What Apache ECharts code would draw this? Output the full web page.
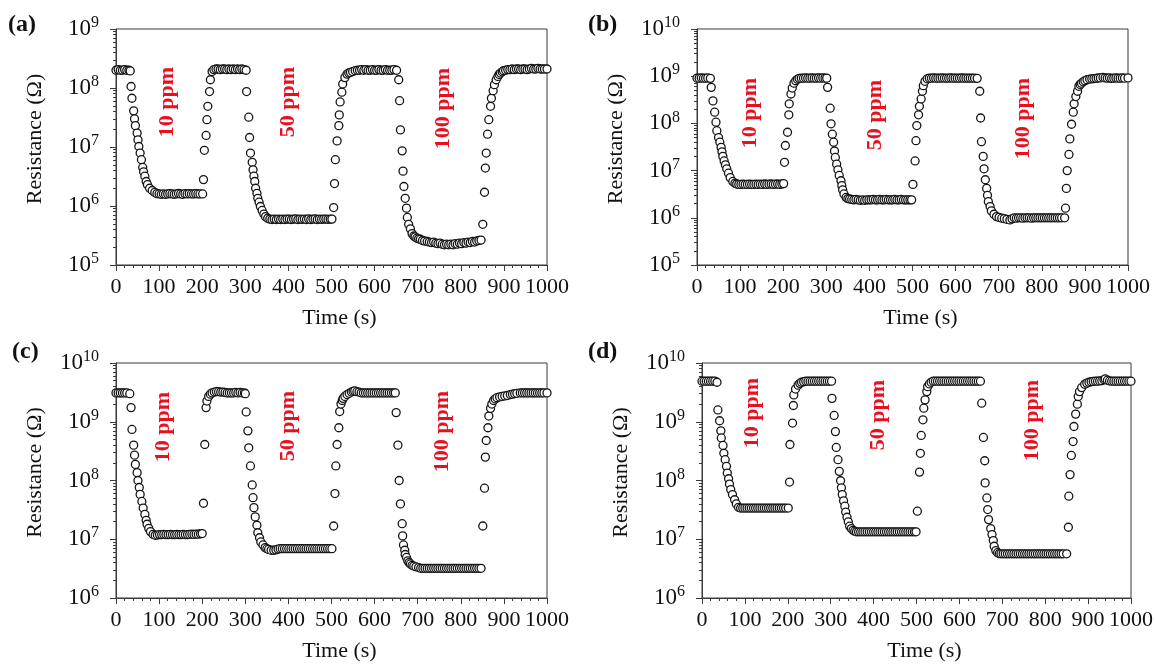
<!DOCTYPE html>
<html>
<head>
<meta charset="utf-8">
<script src="https://cdn.jsdelivr.net/npm/echarts@6/dist/echarts.min.js"></script>
<style>html,body{margin:0;padding:0;background:#fff}#c{width:1156px;height:666px}</style>
</head>
<body>
<div id="c"></div>
<script>
// Time (s) vs Resistance (Ohm)
const panelA = [[0,2.0e8],[5,2.05e8],[10,2.0e8],[15,2.0e8],[20,2.05e8],[25,2.0e8],[30,2.0e8],[33,1.95e8],
[35,1.06e8],[37,6.7e7],[41,4.1e7],[43,3.0e7],[45,2.3e7],[49,1.72e7],[51,1.32e7],[53,1.02e7],[56,7.9e6],[59,6.1e6],[62,4.5e6],[64,3.8e6],[67,3.2e6],[70,2.6e6],[73,2.3e6],[78,2.0e6],[84,1.83e6],[90,1.7e6],[95,1.62e6],[100,1.6e6],[105,1.58e6],[110,1.6e6],[115,1.58e6],[120,1.6e6],[125,1.62e6],[130,1.6e6],[135,1.58e6],[140,1.6e6],[145,1.63e6],[150,1.6e6],[155,1.58e6],[160,1.62e6],[165,1.6e6],[170,1.62e6],[175,1.6e6],[180,1.6e6],[185,1.62e6],[190,1.6e6],[195,1.6e6],[201,1.6e6],
[203,2.8e6],[205,8.8e6],[209,1.57e7],[211,2.9e7],[213,4.9e7],[217,8.7e7],[219,1.38e8],[223,1.9e8],[227,2.05e8],[232,2.1e8],[237,2.1e8],[242,2.05e8],[247,2.1e8],[252,2.1e8],[257,2.05e8],[262,2.1e8],[267,2.05e8],[272,2.1e8],[277,2.05e8],[282,2.1e8],[287,2.05e8],[292,2.1e8],[297,2.05e8],[302,2.0e8],
[303,8.7e7],[308,3.2e7],[310,1.45e7],[312,7.9e6],[316,5.5e6],[318,4.1e6],[320,3.2e6],[322,2.6e6],[324,2.0e6],[327,1.64e6],[329,1.35e6],[332,1.16e6],[335,9.8e5],[339,8.4e5],[343,7.3e5],[347,6.6e5],[352,6.2e5],[357,6.0e5],[362,5.9e5],[367,6.0e5],[372,5.9e5],[377,6.0e5],[382,5.9e5],[387,6.0e5],[392,5.9e5],[397,6.0e5],[402,6.0e5],[407,5.9e5],[412,6.0e5],[417,6.05e5],[422,5.9e5],[427,6.0e5],[432,5.95e5],[437,6.0e5],[442,5.9e5],[447,6.05e5],[452,5.9e5],[457,6.0e5],[462,6.05e5],[467,5.9e5],[472,6.0e5],[477,5.95e5],[482,6.0e5],[487,6.0e5],[492,5.95e5],[497,6.0e5],[501,6.0e5],
[505,9.4e5],[507,2.4e6],[509,6.1e6],[513,1.27e7],[517,2.3e7],[518,3.5e7],[520,5.8e7],[524,8.5e7],[526,1.17e8],[531,1.5e8],[536,1.72e8],[540,1.8e8],[544,1.84e8],[549,1.9e8],[555,1.97e8],[560,2.0e8],[565,2.0e8],[570,2.05e8],[575,2.0e8],[580,2.05e8],[585,2.0e8],[590,2.0e8],[595,2.05e8],[600,2.0e8],[605,2.0e8],[610,2.05e8],[615,2.0e8],[620,2.0e8],[625,2.05e8],[630,2.0e8],[635,2.0e8],[640,2.0e8],[645,2.05e8],[651,2.0e8],
[656,1.38e8],[658,6.1e7],[660,1.95e7],[664,8.6e6],[666,3.9e6],[668,2.14e6],[671,1.35e6],[674,9.2e5],[676,6.4e5],[679,4.9e5],[683,4.1e5],[687,3.4e5],[691,3.1e5],[694,3.0e5],[698,2.85e5],[702,2.78e5],[706,2.73e5],[711,2.6e5],[716,2.55e5],[722,2.5e5],[727,2.45e5],[732,2.4e5],[737,2.45e5],[742,2.35e5],[747,2.3e5],[752,2.35e5],[757,2.25e5],[762,2.2e5],[767,2.25e5],[772,2.2e5],[777,2.25e5],[782,2.2e5],[787,2.3e5],[792,2.25e5],[797,2.35e5],[802,2.3e5],[807,2.4e5],[812,2.35e5],[817,2.45e5],[822,2.4e5],[827,2.5e5],[832,2.45e5],[837,2.55e5],[842,2.6e5],[847,2.65e5],
[851,4.9e5],[855,1.71e6],[857,4.4e6],[859,7.9e6],[862,1.65e7],[865,2.9e7],[869,4.9e7],[871,6.7e7],[875,9.0e7],[878,1.14e8],[882,1.38e8],[886,1.57e8],[889,1.7e8],[892,1.79e8],[896,1.88e8],[899,1.96e8],[904,2.0e8],[909,2.05e8],[914,2.05e8],[919,2.1e8],[924,2.05e8],[929,2.1e8],[934,2.1e8],[939,2.05e8],[944,2.1e8],[949,2.1e8],[954,2.05e8],[959,2.1e8],[964,2.15e8],[969,2.1e8],[974,2.1e8],[979,2.15e8],[984,2.1e8],[989,2.1e8],[994,2.1e8],[1000,2.1e8]];

const panelB = [[0,9.1e8],[5,9.1e8],[10,9.2e8],[15,9.1e8],[20,9.1e8],[25,9.2e8],[31,9.0e8],
[33,5.8e8],[37,3.0e8],[41,1.73e8],[44,1.06e8],[46,7.0e7],[50,5.0e7],[53,4.0e7],[56,3.1e7],[58,2.5e7],[60,2.0e7],[63,1.6e7],[66,1.32e7],[69,1.09e7],[73,8.8e6],[77,7.1e6],[83,5.9e6],[88,5.4e6],[92,5.2e6],[97,5.1e6],[102,5.1e6],[107,5.15e6],[112,5.1e6],[117,5.1e6],[122,5.15e6],[127,5.1e6],[132,5.1e6],[137,5.15e6],[142,5.1e6],[147,5.15e6],[152,5.1e6],[157,5.2e6],[162,5.1e6],[167,5.15e6],[172,5.2e6],[177,5.1e6],[182,5.15e6],[187,5.2e6],[192,5.1e6],[197,5.2e6],[201,5.3e6],
[203,1.5e7],[205,3.4e7],[210,6.5e7],[213,1.52e8],[214,2.6e8],[218,4.2e8],[221,5.6e8],[225,7.1e8],[229,8.0e8],[233,8.6e8],[237,9.0e8],[242,9.1e8],[247,9.1e8],[252,9.2e8],[257,9.1e8],[262,9.1e8],[267,9.2e8],[272,9.1e8],[277,9.1e8],[282,9.2e8],[287,9.1e8],[292,9.2e8],[297,9.1e8],[301,9.1e8],
[303,5.8e8],[309,2.1e8],[311,9.8e7],[314,5.9e7],[317,4.0e7],[319,2.6e7],[321,1.9e7],[324,1.37e7],[327,1.04e7],[330,7.9e6],[334,6.1e6],[336,4.8e6],[338,3.9e6],[341,3.2e6],[346,2.7e6],[350,2.55e6],[354,2.5e6],[359,2.45e6],[364,2.4e6],[369,2.45e6],[374,2.4e6],[379,2.35e6],[384,2.4e6],[389,2.35e6],[394,2.4e6],[399,2.4e6],[404,2.4e6],[409,2.45e6],[414,2.4e6],[419,2.4e6],[424,2.45e6],[429,2.4e6],[434,2.4e6],[439,2.45e6],[444,2.4e6],[449,2.4e6],[454,2.4e6],[459,2.45e6],[464,2.4e6],[469,2.4e6],[474,2.45e6],[479,2.4e6],[484,2.4e6],[489,2.4e6],[494,2.4e6],[498,2.4e6],
[501,5.1e6],[506,1.6e7],[508,4.3e7],[510,9.0e7],[514,1.52e8],[516,2.3e8],[520,3.3e8],[523,4.8e8],[525,6.3e8],[529,7.8e8],[534,8.8e8],[539,9.1e8],[544,9.1e8],[549,9.2e8],[554,9.1e8],[559,9.1e8],[564,9.1e8],[569,9.2e8],[574,9.1e8],[579,9.1e8],[584,9.1e8],[589,9.2e8],[594,9.1e8],[599,9.1e8],[604,9.1e8],[609,9.1e8],[614,9.2e8],[619,9.1e8],[624,9.1e8],[629,9.1e8],[634,9.1e8],[639,9.1e8],[644,9.1e8],[650,9.0e8],
[656,4.8e8],[658,1.3e8],[660,4.1e7],[664,2.0e7],[666,1.09e7],[669,6.4e6],[672,4.2e6],[674,3.0e6],[676,2.2e6],[680,1.73e6],[683,1.4e6],[689,1.19e6],[695,1.06e6],[701,1.02e6],[707,9.8e5],[713,9.6e5],[719,9.3e5],[726,9.0e5],[731,9.5e5],[736,1.0e6],[741,9.8e5],[746,1.0e6],[751,1.0e6],[756,9.8e5],[761,1.0e6],[766,1.0e6],[771,1.0e6],[776,9.8e5],[781,1.0e6],[786,1.0e6],[791,1.0e6],[796,1.0e6],[801,1.0e6],[806,1.0e6],[811,1.0e6],[816,1.0e6],[821,1.0e6],[826,1.0e6],[831,1.0e6],[836,1.0e6],[841,1.0e6],[846,1.0e6],[853,1.0e6],
[855,1.6e6],[857,4.2e6],[859,1.0e7],[863,2.2e7],[865,4.7e7],[869,9.6e7],[873,1.73e8],[875,2.6e8],[879,3.7e8],[883,4.8e8],[886,6.1e8],[889,6.7e8],[892,7.1e8],[896,7.6e8],[900,8.0e8],[905,8.4e8],[911,8.7e8],[916,8.8e8],[921,8.9e8],[926,9.0e8],[931,9.2e8],[936,9.2e8],[942,9.4e8],[947,9.2e8],[952,9.1e8],[957,9.2e8],[962,9.0e8],[967,9.1e8],[972,9.2e8],[977,9.1e8],[982,9.1e8],[987,9.2e8],[992,9.1e8],[1000,9.2e8]];

const panelC = [[0,3.1e9],[5,3.1e9],[10,3.1e9],[15,3.1e9],[20,3.1e9],[25,3.1e9],[32,3.0e9],
[35,1.74e9],[37,7.4e8],[41,4.0e8],[43,2.7e8],[45,1.88e8],[49,1.36e8],[51,1.0e8],[54,7.6e7],[56,5.8e7],[60,4.4e7],[63,3.4e7],[67,2.65e7],[70,2.1e7],[72,1.8e7],[76,1.53e7],[80,1.35e7],[86,1.21e7],[91,1.17e7],[96,1.18e7],[101,1.2e7],[106,1.2e7],[111,1.21e7],[116,1.2e7],[121,1.2e7],[126,1.21e7],[131,1.2e7],[136,1.2e7],[141,1.21e7],[146,1.2e7],[151,1.2e7],[156,1.21e7],[161,1.2e7],[166,1.2e7],[171,1.21e7],[176,1.22e7],[181,1.21e7],[186,1.22e7],[191,1.22e7],[196,1.24e7],[200,1.25e7],
[203,4.1e7],[206,4.1e8],[209,1.74e9],[211,2.25e9],[215,2.7e9],[219,2.95e9],[223,3.1e9],[228,3.2e9],[233,3.25e9],[238,3.25e9],[243,3.2e9],[248,3.2e9],[253,3.15e9],[258,3.1e9],[263,3.1e9],[268,3.1e9],[273,3.1e9],[278,3.15e9],[283,3.1e9],[288,3.15e9],[293,3.1e9],[298,3.1e9],[300,3.0e9],
[302,1.47e9],[306,7.0e8],[308,3.6e8],[312,1.77e8],[316,8.4e7],[318,5.1e7],[320,3.45e7],[323,2.4e7],[327,1.73e7],[329,1.29e7],[333,1.06e7],[336,9.0e6],[341,8.0e6],[346,7.2e6],[350,6.9e6],[354,6.7e6],[360,6.5e6],[366,6.5e6],[371,6.6e6],[376,6.8e6],[381,6.9e6],[386,6.9e6],[391,6.9e6],[396,6.9e6],[401,6.9e6],[406,6.9e6],[411,6.9e6],[416,6.9e6],[421,6.9e6],[426,6.9e6],[431,6.9e6],[436,6.9e6],[441,6.9e6],[446,6.9e6],[451,6.9e6],[456,6.9e6],[461,6.9e6],[466,6.9e6],[471,6.9e6],[476,6.9e6],[481,6.9e6],[486,6.9e6],[491,6.9e6],[496,6.9e6],[501,6.9e6],
[505,1.68e7],[508,6.0e7],[510,1.77e8],[513,4.1e8],[517,7.9e8],[519,1.49e9],[522,2.0e9],[525,2.3e9],[527,2.5e9],[531,2.7e9],[536,2.9e9],[541,3.05e9],[546,3.2e9],[550,3.3e9],[554,3.35e9],[559,3.25e9],[564,3.2e9],[569,3.1e9],[574,3.1e9],[579,3.1e9],[584,3.1e9],[589,3.1e9],[594,3.1e9],[599,3.1e9],[604,3.1e9],[609,3.1e9],[614,3.1e9],[619,3.1e9],[624,3.1e9],[629,3.1e9],[634,3.1e9],[639,3.1e9],[644,3.1e9],[648,3.1e9],
[650,1.43e9],[654,4.0e8],[657,1.0e8],[660,4.0e7],[664,1.84e7],[665,1.14e7],[667,8.0e6],[670,6.5e6],[671,5.5e6],[674,4.9e6],[677,4.3e6],[680,4.0e6],[683,3.8e6],[687,3.6e6],[691,3.5e6],[696,3.4e6],[702,3.3e6],[707,3.2e6],[712,3.2e6],[717,3.2e6],[722,3.2e6],[727,3.2e6],[732,3.2e6],[737,3.2e6],[742,3.2e6],[747,3.2e6],[752,3.2e6],[757,3.2e6],[762,3.2e6],[767,3.2e6],[772,3.2e6],[777,3.2e6],[782,3.2e6],[787,3.2e6],[792,3.2e6],[797,3.2e6],[802,3.2e6],[807,3.2e6],[812,3.2e6],[817,3.2e6],[822,3.2e6],[827,3.2e6],[832,3.2e6],[837,3.2e6],[842,3.2e6],[847,3.2e6],
[851,1.68e7],[855,7.4e7],[857,2.5e8],[859,4.8e8],[863,7.9e8],[865,1.25e9],[869,1.69e9],[872,2.0e9],[876,2.3e9],[880,2.45e9],[884,2.57e9],[890,2.65e9],[896,2.7e9],[902,2.75e9],[908,2.8e9],[915,2.9e9],[920,2.95e9],[925,3.0e9],[930,3.05e9],[938,3.1e9],[943,3.1e9],[948,3.1e9],[953,3.1e9],[958,3.1e9],[963,3.1e9],[968,3.1e9],[973,3.1e9],[978,3.1e9],[983,3.1e9],[988,3.1e9],[993,3.1e9],[1000,3.1e9]];

const panelD = [[0,4.9e9],[5,4.9e9],[10,4.9e9],[15,4.9e9],[20,4.9e9],[25,4.9e9],[30,4.9e9],[35,4.7e9],
[37,1.59e9],[41,1.04e9],[44,7.0e8],[45,5.3e8],[49,3.95e8],[51,2.9e8],[54,2.26e8],[57,1.74e8],[59,1.34e8],[62,1.07e8],[64,8.7e7],[67,7.0e7],[71,5.75e7],[76,4.7e7],[80,4.0e7],[85,3.5e7],[90,3.4e7],[95,3.4e7],[100,3.4e7],[105,3.4e7],[110,3.4e7],[115,3.4e7],[120,3.4e7],[125,3.4e7],[130,3.4e7],[135,3.4e7],[140,3.4e7],[145,3.4e7],[150,3.4e7],[155,3.4e7],[160,3.4e7],[165,3.4e7],[170,3.4e7],[175,3.4e7],[180,3.4e7],[185,3.4e7],[190,3.4e7],[195,3.4e7],[201,3.4e7],
[204,9.4e7],[205,4.1e8],[211,9.5e8],[213,1.89e9],[214,2.86e9],[218,3.6e9],[224,4.2e9],[228,4.5e9],[232,4.7e9],[237,4.8e9],[242,4.9e9],[247,4.9e9],[252,4.9e9],[257,4.9e9],[262,4.9e9],[267,4.9e9],[272,4.9e9],[277,4.9e9],[282,4.9e9],[287,4.9e9],[292,4.9e9],[297,4.9e9],[302,4.9e9],
[303,2.5e9],[308,1.28e9],[311,6.8e8],[313,3.65e8],[317,2.26e8],[320,1.43e8],[323,9.9e7],[325,7.5e7],[327,5.75e7],[330,4.5e7],[333,3.65e7],[335,2.9e7],[338,2.37e7],[341,1.98e7],[344,1.67e7],[348,1.52e7],[352,1.42e7],[356,1.37e7],[360,1.34e7],[365,1.34e7],[370,1.34e7],[375,1.34e7],[380,1.34e7],[385,1.34e7],[390,1.34e7],[395,1.34e7],[400,1.34e7],[405,1.34e7],[410,1.34e7],[415,1.34e7],[420,1.34e7],[425,1.34e7],[430,1.34e7],[435,1.34e7],[440,1.34e7],[445,1.34e7],[450,1.34e7],[455,1.34e7],[460,1.34e7],[465,1.34e7],[470,1.34e7],[475,1.34e7],[480,1.34e7],[485,1.34e7],[490,1.34e7],[495,1.34e7],[499,1.34e7],
[502,3.0e7],[507,1.39e8],[509,2.9e8],[511,5.85e8],[515,1.08e9],[517,1.7e9],[520,2.36e9],[524,3.26e9],[526,3.96e9],[530,4.4e9],[534,4.7e9],[539,4.9e9],[544,4.9e9],[549,4.9e9],[554,4.9e9],[559,4.9e9],[564,4.9e9],[569,4.9e9],[574,4.9e9],[579,4.9e9],[584,4.9e9],[589,4.9e9],[594,4.9e9],[599,4.9e9],[604,4.9e9],[609,4.9e9],[614,4.9e9],[619,4.9e9],[624,4.9e9],[629,4.9e9],[634,4.9e9],[639,4.9e9],[644,4.9e9],[649,4.9e9],
[652,2.07e9],[656,5.4e8],[659,2.17e8],[660,9.1e7],[664,5.05e7],[666,3.2e7],[668,2.16e7],[673,1.52e7],[676,1.2e7],[679,9.5e6],[681,7.6e6],[685,6.4e6],[689,5.9e6],[693,5.7e6],[697,5.65e6],[702,5.65e6],[707,5.65e6],[712,5.65e6],[717,5.65e6],[722,5.65e6],[727,5.65e6],[732,5.65e6],[737,5.65e6],[742,5.65e6],[747,5.65e6],[752,5.65e6],[757,5.65e6],[762,5.65e6],[767,5.65e6],[772,5.65e6],[777,5.65e6],[782,5.65e6],[787,5.65e6],[792,5.65e6],[797,5.65e6],[802,5.65e6],[807,5.65e6],[812,5.65e6],[817,5.65e6],[822,5.65e6],[827,5.65e6],[832,5.65e6],[837,5.65e6],[842,5.65e6],[850,5.65e6],
[854,1.6e7],[855,5.4e7],[858,1.26e8],[861,2.67e8],[865,4.6e8],[867,8.3e8],[871,1.35e9],[875,1.99e9],[877,2.69e9],[880,3.26e9],[885,3.81e9],[892,4.35e9],[897,4.55e9],[902,4.7e9],[907,4.8e9],[912,4.85e9],[917,4.9e9],[922,4.9e9],[927,4.95e9],[932,5.0e9],[937,5.2e9],[940,5.35e9],[945,5.1e9],[950,4.95e9],[955,4.9e9],[960,4.9e9],[965,4.9e9],[970,4.9e9],[975,4.9e9],[980,4.9e9],[985,4.9e9],[990,4.9e9],[995,4.9e9],[1000,4.9e9]];

const panelLetters = ['(a)', '(b)', '(c)', '(d)'];
const gasLabels = ['10 ppm', '50 ppm', '100 ppm'];
const yMin = [1e5, 1e5, 1e6, 1e6];
const yMax = [1e9, 1e10, 1e10, 1e10];
const xTitle = 'Time (s)';
const yTitle = 'Resistance (\u03A9)';

const panels = [panelA, panelB, panelC, panelD];
const grids = [
  {left: 116, top: 29, width: 431, height: 236},
  {left: 697, top: 29, width: 431, height: 236},
  {left: 116, top: 363, width: 431, height: 235},
  {left: 702, top: 363, width: 430, height: 235}
];
const serif = 'Liberation Serif';
const axisColor = '#3a3a3a';

const option = {
  animation: false,
  backgroundColor: '#fff',
  grid: grids.map(g => Object.assign({show: true, borderColor: axisColor, borderWidth: 1, backgroundColor: 'transparent'}, g)),
  xAxis: grids.map((g, i) => ({
    type: 'value', gridIndex: i, min: 0, max: 1000, interval: 100,
    name: xTitle, nameLocation: 'middle', nameGap: 42,
    nameTextStyle: {fontFamily: serif, fontSize: 22, color: '#111', padding: [0, 0, 0, 16]},
    axisLine: {show: true, lineStyle: {color: axisColor, width: 1}},
    axisTick: {show: true, inside: false, length: 6, lineStyle: {color: axisColor}},
    minorTick: {show: true, splitNumber: 5, length: 3, lineStyle: {color: axisColor}},
    splitLine: {show: false},
    axisLabel: {fontFamily: serif, fontSize: 22, color: '#111', margin: 11, formatter: v => String(v)}
  })),
  yAxis: grids.map((g, i) => ({
    type: 'log', logBase: 10, gridIndex: i, min: yMin[i], max: yMax[i],
    name: yTitle, nameLocation: 'middle', nameGap: 70, nameRotate: 90,
    nameTextStyle: {fontFamily: serif, fontSize: 22, color: '#111', padding: [0, 0, 0, 16]},
    axisLine: {show: true, lineStyle: {color: axisColor, width: 1}},
    axisTick: {show: true, inside: false, length: 6, lineStyle: {color: axisColor}},
    minorTick: {show: true, splitNumber: 9, length: 3, lineStyle: {color: axisColor}},
    splitLine: {show: false},
    axisLabel: {
      margin: 17,
      formatter: v => '{b|10}{s|' + Math.round(Math.log10(v)) + '}',
      rich: {
        b: {fontFamily: serif, fontSize: 23, color: '#111'},
        s: {fontFamily: serif, fontSize: 16, color: '#111', padding: [0, 0, 12, 0]}
      }
    }
  })),
  series: panels.map((d, i) => ({
    type: 'scatter', xAxisIndex: i, yAxisIndex: i, data: d, clip: false,
    symbol: 'circle', symbolSize: 8,
    itemStyle: {color: '#fff', borderColor: '#151515', borderWidth: 1.3, opacity: 1}
  })),
  graphic: [
    {type: 'text', left: 8, top: 13, style: {text: panelLetters[0], font: 'bold 24px "Liberation Serif"', fill: '#111'}},
    {type: 'text', left: 588, top: 13, style: {text: panelLetters[1], font: 'bold 24px "Liberation Serif"', fill: '#111'}},
    {type: 'text', left: 12, top: 340, style: {text: panelLetters[2], font: 'bold 24px "Liberation Serif"', fill: '#111'}},
    {type: 'text', left: 588, top: 340, style: {text: panelLetters[3], font: 'bold 24px "Liberation Serif"', fill: '#111'}}
  ]
};

// rotated red gas-concentration annotations (anchor = top end of text)
const annot = [
  [167, 67, 0], [288, 67, 1], [443, 68, 2],
  [750, 78, 0], [875, 80, 1], [1023, 78, 2],
  [163, 392, 0], [288, 391, 1], [442, 391, 2],
  [752, 378, 0], [878, 380, 1], [1032, 380, 2]
];
annot.forEach(a => {
  option.graphic.push({
    type: 'text', x: a[0], y: a[1], rotation: Math.PI / 2,
    style: {text: gasLabels[a[2]], font: 'bold 22px "Liberation Serif"', fill: '#e8101e', align: 'right', verticalAlign: 'middle'}
  });
});

const chart = echarts.init(document.getElementById('c'), null, {renderer: 'canvas'});
chart.setOption(option);
</script>
</body>
</html>
